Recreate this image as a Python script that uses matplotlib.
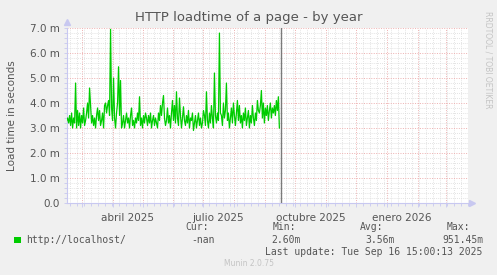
import numpy as np
import pandas as pd
import matplotlib
matplotlib.use("Agg")
import matplotlib.pyplot as plt
import matplotlib.dates as mdates
import matplotlib.transforms as mtransforms

# daily load time (ms), 2025-02-14 .. 2025-09-16
load_ms = [
    3.3, 3.4, 3.2, 3.5, 3.1, 3.6, 3.0, 3.4, 3.2, 4.8,
    3.0, 3.7, 3.1, 3.6, 3.0, 3.5, 3.2, 3.8, 3.1, 3.3,
    3.6, 4.0, 3.4, 4.6, 3.9, 3.2, 3.5, 3.1, 3.4, 3.0,
    3.5, 3.8, 3.3, 3.7, 3.1, 3.3, 3.6, 3.0, 3.9, 4.0,
    3.6, 3.9, 4.1, 3.5, 6.95, 3.8, 3.3, 5.0, 3.4, 3.0,
    3.6, 4.0, 5.45, 3.5, 4.9, 3.0, 3.2, 3.5, 3.0, 3.3,
    3.6, 3.2, 3.4, 3.0, 3.5, 3.8, 3.1, 3.3, 3.0, 3.4,
    3.2, 3.6, 3.3, 4.25, 3.1, 3.4, 3.0, 3.5, 3.2, 3.6,
    3.4, 3.1, 3.5, 3.2, 3.6, 3.0, 3.3, 3.5, 3.1, 3.4,
    3.2, 3.0, 3.6, 3.3, 3.9, 3.5, 4.0, 4.3, 3.4, 3.1,
    3.3, 3.8, 3.2, 3.5, 3.0, 3.6, 4.1, 3.3, 3.9, 3.2,
    4.45, 3.4, 3.1, 4.2, 3.5, 3.0, 3.4, 3.85, 3.3, 3.1,
    3.5, 3.2, 3.7, 3.0, 3.4, 3.3, 3.6, 2.9, 3.2, 3.5,
    3.0, 3.3, 3.6, 3.1, 3.4, 3.0, 3.2, 3.7, 3.5, 3.1,
    4.45, 3.3, 3.0, 3.6, 3.2, 3.9, 3.4, 3.0, 5.2, 3.5,
    3.2, 3.6, 3.3, 6.8, 3.6, 3.5, 3.1, 4.0, 3.4, 3.7,
    4.8, 3.3, 3.6, 3.0, 3.4, 3.8, 3.2, 4.0, 3.5, 3.1,
    3.6, 4.1, 3.3, 3.9, 3.2, 3.5, 3.0, 3.6, 3.3, 3.8,
    3.1, 3.4, 3.7, 3.0, 3.5, 3.2, 3.9, 3.4, 3.1, 3.6,
    3.3, 4.1, 3.7, 3.6, 3.9, 4.5, 3.4, 4.0, 3.2, 3.8,
    3.5, 3.9, 3.3, 3.7, 4.0, 3.4, 3.8, 3.6, 3.9, 3.5,
    4.1, 3.7, 4.25, 3.0,
]
dias = pd.date_range("2025-02-14", periods=len(load_ms), freq="D")

x_ini = pd.Timestamp("2025-02-14")
x_fin = pd.Timestamp("2026-03-23")
ahora = pd.Timestamp("2025-09-16 15:00")
etiquetas_x = ["abril 2025", "julio 2025", "octubre 2025", "enero 2026"]
pos_etiquetas = pd.to_datetime(["2025-04-16", "2025-07-16", "2025-10-16", "2026-01-16"])
y_ticks = [0, 1, 2, 3, 4, 5, 6, 7]
y_labels = ["0.0", "1.0 m", "2.0 m", "3.0 m", "4.0 m", "5.0 m", "6.0 m", "7.0 m"]

fondo = "#F0F0F0"
texto = "#555555"

fig = plt.figure(figsize=(4.97, 2.75), dpi=100, facecolor=fondo)
ax = fig.add_axes([0.134, 0.262, 0.808, 0.636])
ax.set_facecolor("white")

ax.plot(dias, load_ms, color="#00CC00", lw=0.9, zorder=3)
ax.axvline(ahora, color="#7A7A7A", lw=1, zorder=4)

ax.set_xlim(x_ini, x_fin)
ax.set_ylim(0, 7.0)

# grid: red dotted major, grey dotted minor
ax.xaxis.set_major_locator(mdates.MonthLocator())
ax.xaxis.set_minor_locator(mdates.WeekdayLocator(byweekday=mdates.MO))
ax.xaxis.set_major_formatter(plt.NullFormatter())
ax.set_yticks(y_ticks)
ax.set_yticklabels(y_labels)
ax.set_yticks(np.arange(0, 7.01, 0.2), minor=True)

ax.grid(which="minor", color="#DADADA", ls=(0, (1, 1.5)), lw=0.6, zorder=1)
ax.grid(which="major", color="#EDB0B0", ls=(0, (1, 1.5)), lw=0.7, zorder=2)

for lado in ["top", "right"]:
    ax.spines[lado].set_visible(False)
for lado in ["left", "bottom"]:
    ax.spines[lado].set_color("#C8C8F0")
    ax.spines[lado].set_linewidth(0.8)

ax.tick_params(which="both", colors="#C8C8F0", length=2, width=0.6)
ax.tick_params(axis="y", labelcolor=texto, labelsize=7.5, pad=3)
ax.tick_params(axis="x", which="major", length=3)

# axis arrows
ax.plot([0], [1.035], marker="^", ms=4, color="#C8C8F0", transform=ax.transAxes, clip_on=False)
ax.plot([1.01], [0], marker=">", ms=4, color="#C8C8F0", transform=ax.transAxes, clip_on=False)

trans = mtransforms.blended_transform_factory(ax.transData, ax.transAxes)
for fecha, etq in zip(pos_etiquetas, etiquetas_x):
    ax.text(fecha, -0.055, etq, transform=trans, ha="center", va="top",
            fontsize=7.5, color=texto)

ax.set_ylabel("Load time in seconds", fontsize=7.5, color=texto, labelpad=9)

fig.text(0.5, 0.912, "HTTP loadtime of a page - by year", ha="center", va="bottom",
         fontsize=9.5, color=texto)
fig.text(0.981, 0.96, "RRDTOOL / TOBI OETIKER", rotation=270, ha="center", va="top",
         fontsize=5.5, color="#C4C4C4")

# legend block
mono = "DejaVu Sans Mono"
fig.patches.append(plt.Rectangle((0.028, 0.115), 0.014, 0.025, transform=fig.transFigure,
                                 facecolor="#00CC00", edgecolor="none"))
fig.text(0.053, 0.128, "http://localhost/", family=mono, fontsize=7, color=texto, va="center")
fig.text(0.42, 0.175, "Cur:", family=mono, fontsize=7, color=texto, va="center", ha="right")
fig.text(0.433, 0.128, "-nan", family=mono, fontsize=7, color=texto, va="center", ha="right")
fig.text(0.596, 0.175, "Min:", family=mono, fontsize=7, color=texto, va="center", ha="right")
fig.text(0.604, 0.128, "2.60m", family=mono, fontsize=7, color=texto, va="center", ha="right")
fig.text(0.771, 0.175, "Avg:", family=mono, fontsize=7, color=texto, va="center", ha="right")
fig.text(0.795, 0.128, "3.56m", family=mono, fontsize=7, color=texto, va="center", ha="right")
fig.text(0.946, 0.175, "Max:", family=mono, fontsize=7, color=texto, va="center", ha="right")
fig.text(0.972, 0.128, "951.45m", family=mono, fontsize=7, color=texto, va="center", ha="right")
fig.text(0.97, 0.083, "Last update: Tue Sep 16 15:00:13 2025", family=mono, fontsize=7,
         color=texto, va="center", ha="right")
fig.text(0.5, 0.042, "Munin 2.0.75", fontsize=5.5, color="#C4C4C4", ha="center", va="center")

fig.savefig("out.png", dpi=100, facecolor=fondo)
